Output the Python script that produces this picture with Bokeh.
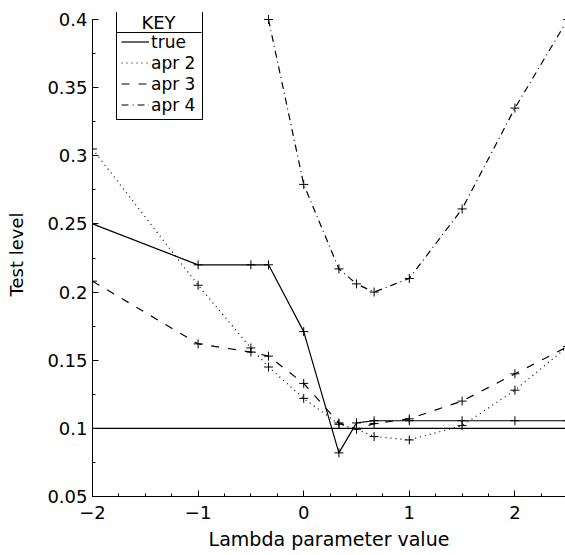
from bokeh.plotting import figure
from bokeh.models import Range1d, FixedTicker, Legend, LegendItem, Label
from bokeh.embed import file_html
from bokeh.resources import INLINE

# ---- data ----
lam = [-2, -1, -0.5, -1/3, 0, 1/3, 0.5, 2/3, 1, 1.5, 2, 2.5]
level_true = [0.250, 0.220, 0.220, 0.220, 0.171, 0.082, 0.104, 0.1056, 0.1056, 0.1056, 0.1056, 0.1056]
level_apr2 = [0.305, 0.205, 0.159, 0.145, 0.122, 0.103, 0.0995, 0.094, 0.0915, 0.102, 0.128, 0.160]
level_apr3 = [0.208, 0.162, 0.156, 0.153, 0.133, 0.104, 0.0995, 0.1035, 0.107, 0.120, 0.140, 0.160]
lam_apr4 = [-1/3, 0, 1/3, 0.5, 2/3, 1, 1.5, 2, 2.5]
level_apr4 = [0.400, 0.279, 0.217, 0.206, 0.200, 0.210, 0.261, 0.335, 0.400]
nominal_x = [-2, 2.5]
nominal_y = [0.1, 0.1]

x_ticks = [-2, -1, 0, 1, 2]
x_tick_labels = ["\u22122", "\u22121", "0", "1", "2"]
y_ticks = [0.05, 0.1, 0.15, 0.2, 0.25, 0.3, 0.35, 0.4]
y_tick_labels = ["0.05", "0.1", "0.15", "0.2", "0.25", "0.3", "0.35", "0.4"]
x_minor = [-2 + 0.25 * i for i in range(19)]
y_minor = [0.05 + 0.025 * i for i in range(15)]

FONT = "DejaVu Sans"

# frame reaches 7px above the 0.4 tick so the legend box (which rises above it) is not clipped
p = figure(width=565, height=555, x_range=Range1d(-2, 2.479), y_range=Range1d(0.05, 0.40514),
           output_backend="svg", toolbar_location=None,
           min_border_left=92, min_border_right=0, min_border_top=12, min_border_bottom=59)
p.grid.visible = False
p.outline_line_color = None
p.background_fill_color = "white"

for ax in (p.xaxis[0], p.yaxis[0]):
    ax.major_tick_in = 6
    ax.major_tick_out = 0
    ax.minor_tick_in = 3
    ax.minor_tick_out = 0
    ax.axis_line_color = "black"
    ax.major_tick_line_color = "black"
    ax.minor_tick_line_color = "black"
    ax.major_label_text_font = FONT
    ax.major_label_text_font_size = "18px"
    ax.major_label_text_color = "black"
    ax.axis_label_text_font = FONT
    ax.axis_label_text_font_size = "18px"
    ax.axis_label_text_font_style = "normal"
    ax.axis_label_text_color = "black"

p.xaxis[0].ticker = FixedTicker(ticks=x_ticks, minor_ticks=x_minor)
p.xaxis[0].major_label_overrides = dict(zip(x_ticks, x_tick_labels))
p.xaxis[0].major_label_standoff = 9
p.xaxis[0].axis_label = "Lambda parameter value"
p.xaxis[0].axis_label_text_font_size = "19px"
p.xaxis[0].axis_label_standoff = 6

p.yaxis[0].ticker = FixedTicker(ticks=y_ticks, minor_ticks=y_minor)
p.yaxis[0].major_label_overrides = dict(zip(y_ticks, y_tick_labels))
p.yaxis[0].major_label_standoff = 5
p.yaxis[0].axis_label = "Test level"
p.yaxis[0].axis_label_standoff = 17
p.yaxis[0].bounds = (0.05, 0.4)

LW = 1.2
p.line(nominal_x, nominal_y, line_color="black", line_width=LW)

# legend header ("KEY") and its separator line; they show through the transparent legend box
p.add_layout(Label(x=-1.375, y=0.3978, text="KEY", text_align="center", text_baseline="middle",
                   text_font=FONT, text_font_size="18px", text_color="black"))
p.segment(x0=[-1.773], y0=[0.39045], x1=[-0.968], y1=[0.39045], line_color="black", line_width=1)

r_true = p.line(lam, level_true, line_color="black", line_width=LW)
p.scatter(lam, level_true, marker="cross", size=9, line_color="black")
r_a2 = p.line(lam, level_apr2, line_color="black", line_width=LW, line_dash="1 4")
p.scatter(lam, level_apr2, marker="cross", size=9, line_color="black")
r_a3 = p.line(lam, level_apr3, line_color="black", line_width=LW, line_dash="8 9")
p.scatter(lam, level_apr3, marker="cross", size=9, line_color="black")
r_a4 = p.line(lam_apr4, level_apr4, line_color="black", line_width=LW, line_dash="7 4 1 4")
p.scatter(lam_apr4, level_apr4, marker="cross", size=9, line_color="black")

legend = Legend(items=[LegendItem(label="true", renderers=[r_true]),
                       LegendItem(label="apr 2", renderers=[r_a2]),
                       LegendItem(label="apr 3", renderers=[r_a3]),
                       LegendItem(label="apr 4", renderers=[r_a4])],
                location=(24, 376), title=" ",
                title_text_font_size="13px", title_standoff=0,
                border_line_color="black", border_line_width=1, border_line_alpha=1,
                background_fill_alpha=0,
                padding=4, margin=0, spacing=0, glyph_height=21, glyph_width=28,
                label_height=21, label_standoff=2, label_width=47,
                label_text_font=FONT, label_text_font_size="17px", label_text_color="black")
p.add_layout(legend)

open("out.html", "w").write(file_html(p, INLINE))
